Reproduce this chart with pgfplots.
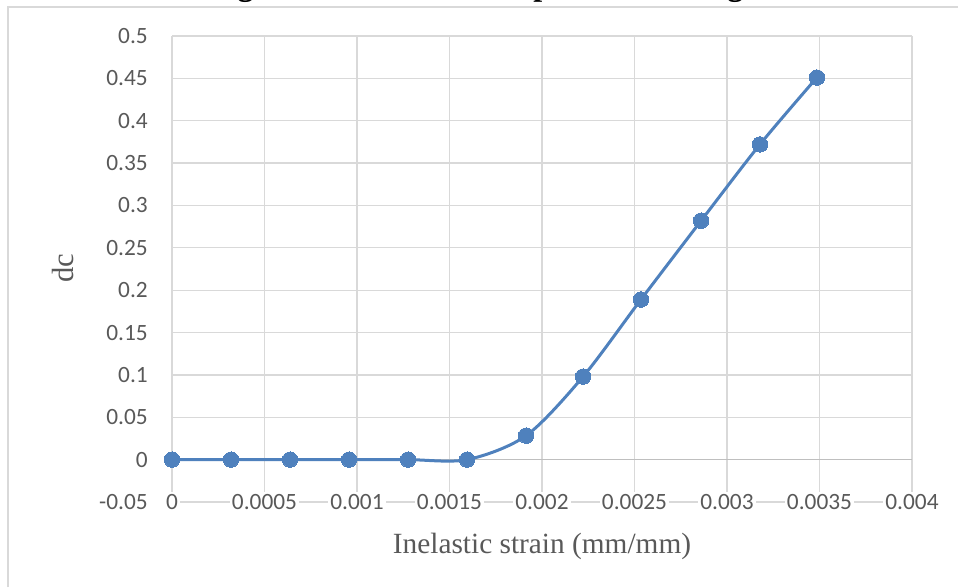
\documentclass[border=0pt]{standalone}
\usepackage{pgfplots}
\pgfplotsset{compat=1.18}
\usepackage{fontspec}
\setmainfont{Liberation Serif}
\newfontfamily\calibri{Carlito}
\definecolor{gridgray}{RGB}{217,217,217}
\definecolor{axisgray}{RGB}{191,191,191}
\definecolor{labgray}{RGB}{89,89,89}
\definecolor{series}{RGB}{79,129,189}
\begin{document}
\begin{tikzpicture}
\useasboundingbox (0pt,0pt) rectangle (718.5pt,440.25pt);
\begin{scope}[x=0.75pt,y=0.75pt]
\draw[color=gridgray, line width=1.5pt] (7.5,0) -- (7.5,579.5) -- (958,579.5);
\node[anchor=base west, inner sep=0, font=\bfseries\fontsize{24}{28}\selectfont] at (209,591) {Figure 4: Concrete compressive damage};
\end{scope}
\begin{axis}[
  at={(129pt,63.75pt)}, anchor=south west,
  width=555pt, height=349.5pt, scale only axis,
  xmin=0, xmax=0.004, ymin=-0.05, ymax=0.5,
  scaled x ticks=false, scaled y ticks=false,
  xtick={0,0.0005,0.001,0.0015,0.002,0.0025,0.003,0.0035,0.004},
  xticklabels={0,0.0005,0.001,0.0015,0.002,0.0025,0.003,0.0035,0.004},
  ytick={-0.05,0,0.05,0.1,0.15,0.2,0.25,0.3,0.35,0.4,0.45,0.5},
  yticklabels={-0.05,0,0.05,0.1,0.15,0.2,0.25,0.3,0.35,0.4,0.45,0.5},
  grid=major,
  major grid style={color=gridgray, line width=1pt},
  axis line style={draw=none},
  tick style={draw=none},
  xticklabel style={font=\calibri\fontsize{17.5}{20}\selectfont, text=labgray, fill=white, inner sep=1.5pt, anchor=center},
  yticklabel style={font=\calibri\fontsize{17.5}{20}\selectfont, text=labgray, anchor=east, inner sep=0pt, xshift=-18pt},
  xlabel={Inelastic strain (mm/mm)},
  ylabel={dc},
  xlabel style={font=\fontsize{22}{26}\selectfont, text=labgray, at={(axis description cs:0.5,-0.0944)}, anchor=center},
  ylabel style={font=\fontsize{23}{27}\selectfont, text=labgray, at={(axis description cs:-0.1473,0.502)}, anchor=center, rotate=0},
  clip=false,
]
\draw[color=axisgray, line width=1pt] (axis cs:0,0) -- (axis cs:0.004,0);
\addplot[color=series, line width=2.25pt, smooth, tension=0.5, mark=*, mark size=5.8pt, mark options={fill=series, draw=series, line width=0pt}]
coordinates {
(0,0) (0.000319,0) (0.000638,0) (0.000957,0) (0.001276,0) (0.001595,0)
(0.001914,0.0283) (0.002222,0.098) (0.002535,0.189) (0.00286,0.282)
(0.003178,0.372) (0.003486,0.451)
};
\end{axis}
\end{tikzpicture}
\end{document}
